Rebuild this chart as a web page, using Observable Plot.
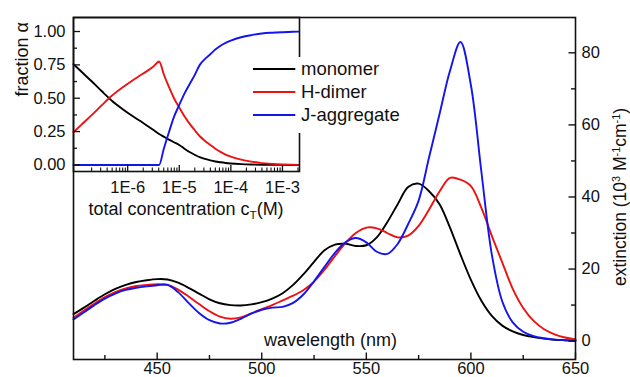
<!DOCTYPE html>
<html><head><meta charset="utf-8">
<script src="https://cdn.jsdelivr.net/npm/d3@7"></script>
<script src="https://cdn.jsdelivr.net/npm/@observablehq/plot@0.6"></script>
<style>
body{margin:0;background:#fff;}
#chart{position:relative;width:630px;height:377px;font-family:"Liberation Sans",Arial,sans-serif;color:#000;}
#chart > svg{position:absolute;left:0;top:0;}
.lbl{position:absolute;white-space:nowrap;line-height:1;color:#111;}
.lbl sup{font-size:0.62em;vertical-align:0.55em;line-height:0;}
.lbl sub{font-size:0.65em;vertical-align:-0.32em;line-height:0;}
#legend{position:absolute;left:249px;top:57px;width:170px;height:76px;background:#fff;}
.row{position:absolute;left:0;height:20px;width:170px;}
.row svg{position:absolute;left:3.7px;top:0;}
.row span{position:absolute;left:52px;top:0;line-height:20px;font-size:18.5px;color:#111;}
</style></head><body><div id="chart"></div>
<script>
// ---- main spectra (extinction, 10^3 M^-1 cm^-1) ----
const wavelengths = [410,415,420,425,430,435,440,445,450,455,460,465,470,475,480,485,490,495,500,505,510,515,520,525,530,535,540,545,550,555,560,565,570,575,580,585,590,595,600,605,610,615,620,625,630,635,640,645,650];
const monomerExt = [7.5,9.3,11.2,13.0,14.5,15.6,16.4,16.9,17.2,17.1,16.2,14.8,13.2,11.6,10.5,10.0,9.9,10.2,10.8,11.8,13.3,15.6,18.6,22.0,25.2,26.8,27.0,26.4,26.6,28.8,33.0,38.0,42.8,43.7,41.6,38.0,31.5,24.0,17.0,11.2,7.0,4.3,2.7,1.7,1.1,0.7,0.4,0.25,0.15];
const hDimerExt = [6.5,8.5,10.4,12.2,13.6,14.6,15.3,15.6,15.8,15.6,14.3,12.4,10.3,8.3,6.8,6.2,6.6,7.7,8.9,10.0,11.3,12.6,14.2,16.5,19.8,23.6,27.2,30.0,31.5,31.3,30.0,28.8,29.3,32.0,36.5,41.5,45.3,44.8,43.0,37.0,29.2,21.8,14.5,9.2,5.6,3.3,1.9,1.0,0.5];
const jAggExt = [6.0,8.0,10.0,11.8,13.2,14.2,14.8,15.2,15.5,15.6,13.6,10.6,7.8,5.8,4.9,5.1,6.2,7.6,8.7,9.3,9.5,10.6,13.0,16.6,20.6,24.5,27.4,28.6,27.4,24.8,24.2,27.0,32.5,39.0,51.0,63.0,75.0,83.0,71.0,47.0,24.0,11.0,5.2,2.6,1.4,0.8,0.4,0.2,0.1];

// ---- inset: fractions vs total concentration (M) ----
const concentration = [8.91e-8,1.26e-7,2.0e-7,3.16e-7,5.0e-7,7.9e-7,1.26e-6,2.0e-6,3.16e-6,4.07e-6,5.0e-6,6.3e-6,7.9e-6,1e-5,1.26e-5,1.58e-5,2.0e-5,2.5e-5,3.16e-5,4.0e-5,5.0e-5,6.3e-5,7.9e-5,1e-4,1.58e-4,2.5e-4,4.0e-4,6.3e-4,1e-3,1.58e-3,2.09e-3];
const monomerFrac = [0.755,0.70,0.627,0.552,0.48,0.42,0.365,0.315,0.262,0.232,0.212,0.19,0.17,0.15,0.122,0.097,0.076,0.058,0.045,0.034,0.026,0.02,0.015,0.011,0.006,0.003,0.0015,0.0008,0.0004,0.0002,0.0001];
const hDimerFrac = [0.245,0.30,0.373,0.448,0.52,0.58,0.635,0.685,0.738,0.775,0.68,0.585,0.50,0.43,0.365,0.31,0.26,0.215,0.18,0.15,0.122,0.098,0.078,0.062,0.04,0.025,0.014,0.008,0.004,0.002,0.001];
const jAggFrac = [0,0,0,0,0,0,0,0,0,0,0.12,0.245,0.36,0.45,0.535,0.605,0.675,0.75,0.795,0.83,0.865,0.893,0.915,0.932,0.957,0.973,0.985,0.991,0.995,0.998,0.999];

const seriesNames = ["monomer","H-dimer","J-aggregate"];
const seriesColors = ["#000000","#ee1111","#1414ee"];

// tick values / labels
const xMajor = [450,500,550,600,650];
const xMinor = [425,475,525,575,625];
const yMajor = [0,20,40,60,80];
const yMinor = [10,30,50,70];
const insetXLabels = [1e-6,1e-5,1e-4,1e-3];
const insetYMajor = [0,0.25,0.5,0.75,1];
const insetYMinor = [0.125,0.375,0.625,0.875];

const FONT = "Liberation Sans, Arial, sans-serif";
const chart = document.getElementById("chart");

// build tables
const mainSeries = [monomerExt, hDimerExt, jAggExt];
const mainData = mainSeries.flatMap((arr, i) => arr.map((v, j) => ({wl: wavelengths[j], E: v, s: seriesNames[i]})));
const insetSeries = [monomerFrac, hDimerFrac, jAggFrac];
const insetData = insetSeries.flatMap((arr, i) => arr.map((v, j) => ({c: concentration[j], a: v, s: seriesNames[i]})));

// ---- main plot ----
const W = 630, H = 377, mL = 73, mR = 55, mT = 17, mB = 18;
const pw = W - mL - mR, ph = H - mT - mB;
const main = Plot.plot({
  width: W, height: H,
  marginLeft: mL, marginRight: mR, marginTop: mT, marginBottom: mB,
  style: {fontFamily: FONT, fontSize: "16.5px", color: "#111", background: "transparent", overflow: "visible"},
  x: {domain: [410, 650], ticks: xMajor, tickSize: 0, tickPadding: 3, label: null, tickFormat: d => String(d)},
  y: {domain: [-5.1, 89.8], axis: "right", ticks: yMajor, tickSize: 0, tickPadding: 6, label: null, tickFormat: d => String(d)},
  color: {domain: seriesNames, range: seriesColors},
  marks: [
    Plot.line(mainData, {x: "wl", y: "E", z: "s", stroke: "s", strokeWidth: 1.9, curve: "catmull-rom"}),
    Plot.tickX(xMajor, {x: d => d, insetTop: ph - 6.5, stroke: "#111", strokeWidth: 1.4}),
    Plot.tickX(xMinor, {x: d => d, insetTop: ph - 4, stroke: "#111", strokeWidth: 1.4}),
    Plot.tickY(yMajor, {y: d => d, insetLeft: pw - 6.5, stroke: "#111", strokeWidth: 1.4}),
    Plot.tickY(yMinor, {y: d => d, insetLeft: pw - 4, stroke: "#111", strokeWidth: 1.4}),
    Plot.text(["wavelength (nm)"], {frameAnchor: "bottom", lineAnchor: "bottom", dx: 6, dy: -14, fontSize: 18, fill: "#111"}),
    Plot.frame({stroke: "#111", strokeWidth: 1.6})
  ]
});
chart.appendChild(main);

// ---- inset plot ----
const iW = 310, iH = 230, iL = 73, iR = 11, iT = 17, iB = 59;
const iph = iH - iT - iB;
const minorDecades = [-7,-6,-5,-4,-3];
const insetDomain = [8.91e-8, 2.14e-3];
const insetXMinor = minorDecades.flatMap(n => [2,3,4,5,6,7,8,9].map(k => k * Math.pow(10, n))).filter(v => v > insetDomain[0] && v < insetDomain[1]);
const inset = Plot.plot({
  width: iW, height: iH,
  marginLeft: iL, marginRight: iR, marginTop: iT, marginBottom: iB,
  style: {fontFamily: FONT, fontSize: "16.5px", color: "#111", background: "transparent", overflow: "visible"},
  x: {type: "log", domain: insetDomain, ticks: insetXLabels, tickFormat: d => "1E" + Math.round(Math.log10(d)), tickSize: 0, tickPadding: 10, label: null},
  y: {domain: [-0.049, 1.105], ticks: insetYMajor, tickFormat: d3.format(".2f"), tickSize: 0, tickPadding: 8, label: null},
  color: {domain: seriesNames, range: seriesColors},
  marks: [
    Plot.line(insetData, {x: "c", y: "a", z: "s", stroke: "s", strokeWidth: 1.9, curve: "monotone-x"}),
    Plot.tickX(insetXLabels, {x: d => d, insetTop: iph - 6, stroke: "#111", strokeWidth: 1.3}),
    Plot.tickX(insetXMinor, {x: d => d, insetTop: iph - 3.5, stroke: "#111", strokeWidth: 1.1}),
    Plot.tickY(insetYMajor, {y: d => d, insetRight: (iW - iL - iR) - 7, stroke: "#111", strokeWidth: 1.3}),
    Plot.tickY(insetYMinor, {y: d => d, insetRight: (iW - iL - iR) - 4, stroke: "#111", strokeWidth: 1.3}),
    Plot.text(["fraction α"], {frameAnchor: "left", dx: -51, dy: 2, rotate: -90, fontSize: 18, fill: "#111"}),
    Plot.frame({stroke: "#111", strokeWidth: 1.6})
  ]
});
chart.appendChild(inset);

// ---- legend ----
const legend = document.createElement("div");
legend.id = "legend";
const rowTops = [2.3, 24.7, 48.3];
seriesNames.forEach((name, i) => {
  const row = document.createElement("div");
  row.className = "row";
  row.style.top = rowTops[i] + "px";
  row.innerHTML = `<svg width="44" height="20"><line x1="0" x2="42.3" y1="10" y2="10" stroke="${seriesColors[i]}" stroke-width="2"/></svg><span>${name}</span>`;
  legend.appendChild(row);
});
chart.appendChild(legend);

// ---- axis titles with sub/superscripts ----
const xt = document.createElement("div");
xt.className = "lbl";
xt.style.cssText = "left:186px;top:200px;transform:translateX(-50%);font-size:18px;";
xt.innerHTML = "total concentration c<sub>T</sub>(M)";
chart.appendChild(xt);

const yt = document.createElement("div");
yt.className = "lbl";
yt.style.cssText = "left:621px;top:197px;transform:translate(-50%,-50%) rotate(-90deg);font-size:17.5px;";
yt.innerHTML = "extinction (10<sup>3</sup> M<sup>-1</sup>cm<sup>-1</sup>)";
chart.appendChild(yt);
</script>
</body></html>
